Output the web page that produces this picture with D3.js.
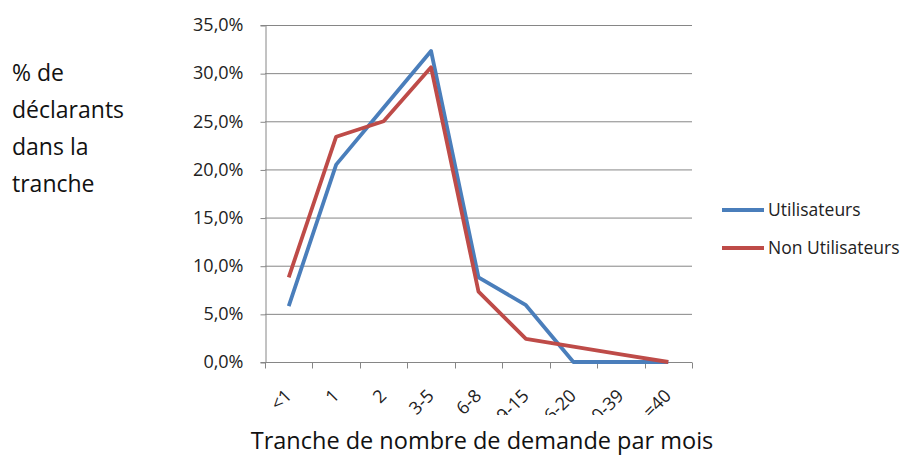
<!DOCTYPE html>
<html>
<head>
<meta charset="utf-8">
<script src="https://cdn.jsdelivr.net/npm/d3@7/dist/d3.min.js"></script>
<style>
  body { margin: 0; background: #fff; }
  svg { display: block; font-family: "Open Sans", Lato, sans-serif; }
</style>
</head>
<body>
<svg id="chart" width="908" height="455"></svg>
<script>
// Tranches of monthly request counts
const categories = ["<1", "1", "2", "3-5", "6-8", "9-15", "16-20", "20-39", ">=40"];
// Share of declarants in each tranche (%)
const utilisateurs = [5.8, 20.5, 26.4, 32.3, 8.8, 5.9, 0.0, 0.0, 0.0];
const nonUtilisateurs = [8.8, 23.4, 25.0, 30.6, 7.3, 2.4, 1.6, 0.8, 0.0];
const yTicks = [0, 5, 10, 15, 20, 25, 30, 35];
const seriesNames = ["Utilisateurs", "Non Utilisateurs"];
const seriesColors = ["#4A7EBB", "#BE4B48"];

const svg = d3.select("#chart");
const plot = { left: 265, right: 692, top: 25, bottom: 362 };

const x = d3.scaleBand().domain(categories).range([plot.left, plot.right]);
const y = d3.scaleLinear().domain([0, 35]).range([plot.bottom, plot.top]);

const fmt = v => v.toFixed(1).replace(".", ",") + "%";

// Horizontal gridlines
svg.append("g").selectAll("line").data(yTicks).join("line")
  .attr("x1", plot.left).attr("x2", plot.right)
  .attr("y1", d => y(d) + 0.5).attr("y2", d => y(d) + 0.5)
  .attr("stroke", "#868686").attr("stroke-width", 1);

// Y axis
const yAxis = svg.append("g")
  .attr("transform", `translate(${plot.left + 0.5},0)`)
  .call(d3.axisLeft(y).tickValues(yTicks).tickFormat(fmt).tickSize(5).tickPadding(17));
yAxis.select(".domain").attr("stroke", "#868686");
yAxis.selectAll(".tick line").attr("stroke", "#868686").attr("transform", "translate(0,0.5)");
yAxis.selectAll(".tick text").attr("font-family", "'Open Sans', sans-serif")
  .attr("font-size", 18).attr("fill", "#222");

// X axis with ticks at tranche boundaries
const xAxisG = svg.append("g").attr("transform", `translate(0,${plot.bottom + 0.5})`);
xAxisG.append("line").attr("x1", plot.left).attr("x2", plot.right).attr("stroke", "#868686");
const bounds = categories.map(c => x(c)).concat([plot.right]);
xAxisG.selectAll("line.tk").data(bounds).join("line").attr("class", "tk")
  .attr("x1", d => Math.round(d) + 0.5).attr("x2", d => Math.round(d) + 0.5)
  .attr("y1", 0).attr("y2", 6).attr("stroke", "#868686");

// Rotated category labels, clipped at the bottom of the label band
svg.append("clipPath").attr("id", "labelClip")
  .append("rect").attr("x", 0).attr("y", 0).attr("width", 908).attr("height", 415);
svg.append("g").attr("clip-path", "url(#labelClip)")
  .selectAll("text").data(categories).join("text")
  .attr("transform", d => `translate(${x(d) + x.bandwidth() / 2 + 4},${plot.bottom + 35}) rotate(-45)`)
  .attr("text-anchor", "end")
  .attr("font-size", 18).attr("fill", "#222")
  .text(d => d);

// Series lines
const line = d3.line().x((d, i) => x(categories[i]) + x.bandwidth() / 2).y(d => y(d));
[utilisateurs, nonUtilisateurs].forEach((vals, k) => {
  svg.append("path").datum(vals)
    .attr("d", line)
    .attr("fill", "none")
    .attr("stroke", seriesColors[k])
    .attr("stroke-width", 3.8)
    .attr("stroke-linejoin", "round");
});

// Legend
const legend = svg.append("g");
seriesNames.forEach((name, k) => {
  const ly = 210 + k * 38;
  legend.append("line").attr("x1", 722).attr("x2", 764).attr("y1", ly).attr("y2", ly)
    .attr("stroke", seriesColors[k]).attr("stroke-width", 3.8);
  legend.append("text").attr("x", 768).attr("y", ly + 6)
    .attr("font-size", 17.5).attr("fill", "#222").text(name);
});

// Y axis title, wrapped over four lines
const yTitle = ["% de", "déclarants", "dans la", "tranche"];
svg.append("g").selectAll("text").data(yTitle).join("text")
  .attr("x", 12).attr("y", (d, i) => 81 + i * 37)
  .attr("font-size", 23).attr("fill", "#111").text(d => d);

// X axis title
svg.append("text").attr("x", 482).attr("y", 449).attr("text-anchor", "middle")
  .attr("font-size", 23.5).attr("fill", "#111")
  .text("Tranche de nombre de demande par mois");
</script>
</body>
</html>
